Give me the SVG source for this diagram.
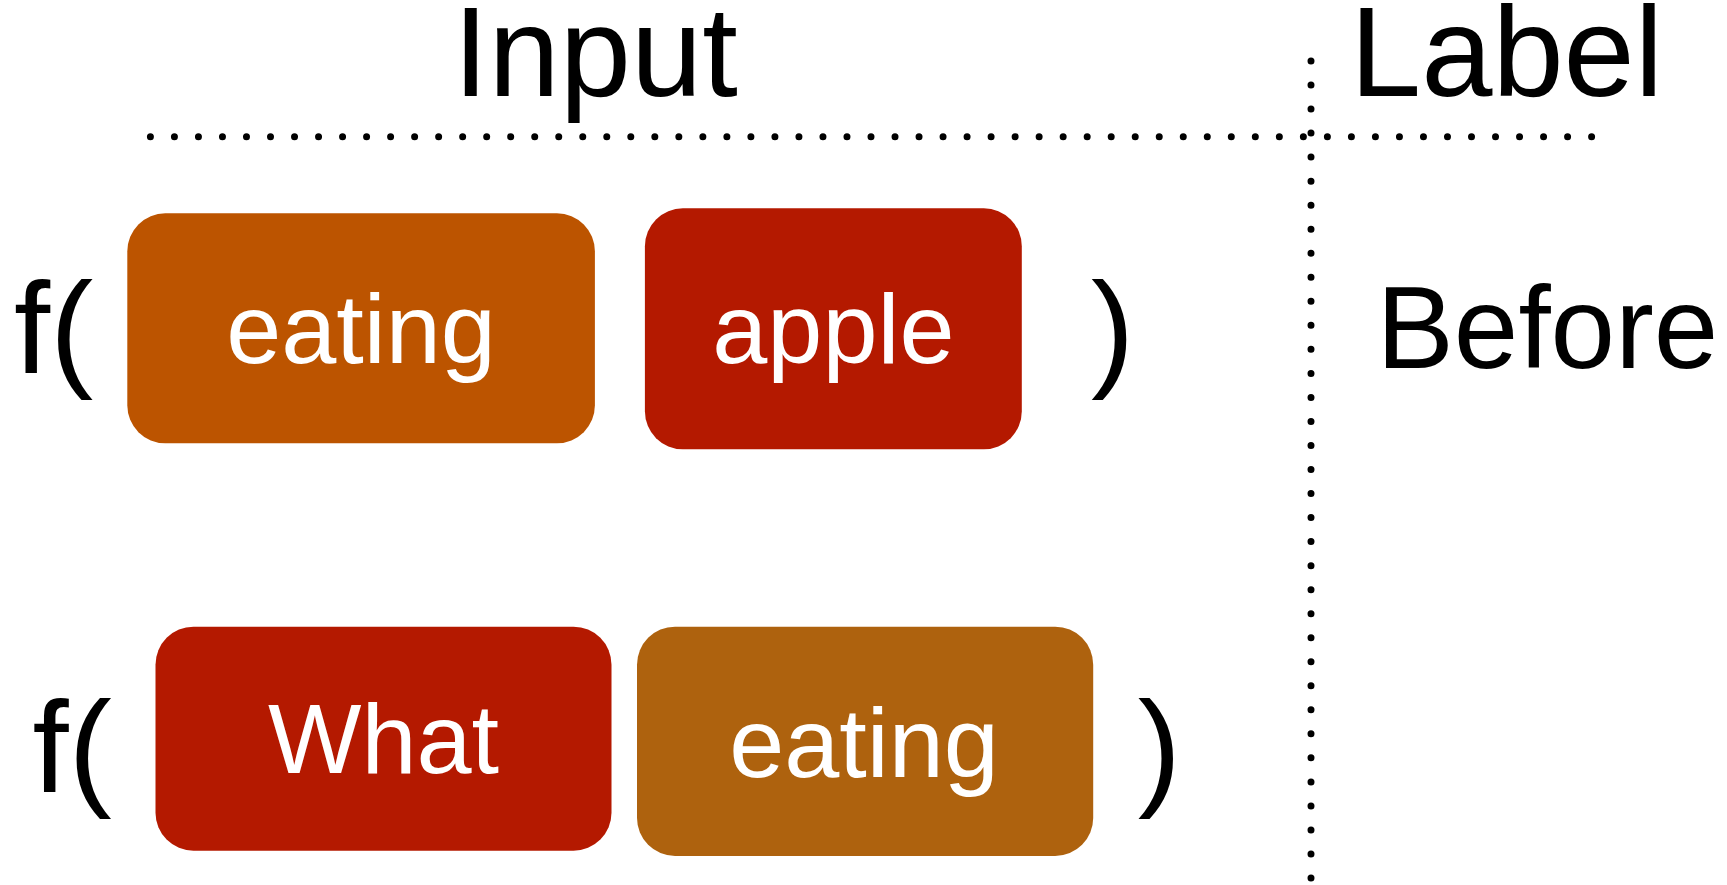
<svg xmlns="http://www.w3.org/2000/svg" width="1727" height="885" viewBox="0 0 1727 885">
  <style>
    .hdr { font-family: "Liberation Sans", Arial, Helvetica, sans-serif; font-size: 128px; fill: #000; }
    .fn { font-family: "Liberation Sans", Arial, Helvetica, sans-serif; font-size: 130px; fill: #000; }
    .lbl { font-family: "Liberation Sans", Arial, Helvetica, sans-serif; font-size: 116px; fill: #000; }
    .word { font-family: "Liberation Sans", Arial, Helvetica, sans-serif; font-size: 99px; fill: #fff; text-anchor: middle; }
    .dots { stroke: #000; stroke-width: 7; stroke-linecap: round; fill: none; }
    .orange { fill: #BC5400; }
    .red { fill: #B41900; }
    .brown { fill: #AE620E; }
  </style>
  <rect width="1727" height="885" fill="#fff"/>

  <g id="separators">
    <line class="dots" x1="150.4" y1="136.7" x2="1593" y2="136.7" stroke-dasharray="0 24.02"/>
    <line class="dots" x1="1311" y1="61" x2="1311" y2="880" stroke-dasharray="0 24.03"/>
  </g>

  <g id="headers">
    <text class="hdr" x="453" y="96">Input</text>
    <text class="hdr" x="1350" y="96">Label</text>
  </g>

  <g id="row1">
    <text class="fn" x="14" y="373">f(</text>
    <g id="box-eating-1">
      <rect class="orange" x="127.3" y="213.3" width="467.6" height="230" rx="38" ry="38"/>
      <text class="word" x="361" y="363.3">eating</text>
    </g>
    <g id="box-apple">
      <rect class="red" x="644.9" y="208.3" width="376.9" height="241" rx="38" ry="38"/>
      <text class="word" x="833.4" y="363.3">apple</text>
    </g>
    <text class="fn" x="1091" y="373">)</text>
    <text id="label-before" class="lbl" x="1376.5" y="368.3">Before</text>
  </g>

  <g id="row2">
    <text class="fn" x="32.5" y="792.3">f(</text>
    <g id="box-what">
      <rect class="red" x="155.5" y="626.7" width="456" height="224" rx="38" ry="38"/>
      <text class="word" x="383.5" y="773.3">What</text>
    </g>
    <g id="box-eating-2">
      <rect class="brown" x="637" y="626.7" width="456.2" height="229.3" rx="38" ry="38"/>
      <text class="word" x="864" y="776.7">eating</text>
    </g>
    <text class="fn" x="1137.7" y="792.3">)</text>
  </g>
</svg>
